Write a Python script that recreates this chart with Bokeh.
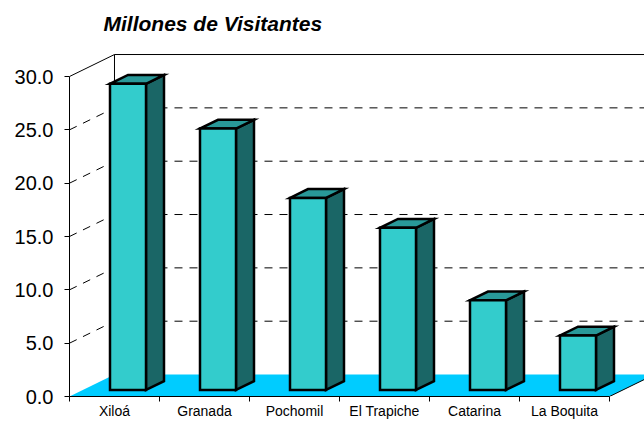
import numpy as np
from bokeh.plotting import figure
from bokeh.models import Range1d, FixedTicker, PrintfTickFormatter, Label
from bokeh.embed import file_html
from bokeh.resources import INLINE

# ---- data ----
categories = ["Xiloá", "Granada", "Pochomil", "El Trapiche", "Catarina", "La Boquita"]
visitantes = [28.7, 24.5, 18.0, 15.2, 8.4, 5.1]
y_ticks = [0, 5, 10, 15, 20, 25, 30]
title_text = "Millones de Visitantes"

# ---- 3D projection parameters (in data units) ----
DX = 0.5      # depth shift in category units
DY = 2.06     # depth shift in value units
D0, D1 = 0.3, 0.7   # bar depth extent
BW0, BW1 = 0.3, 0.7 # bar extent within category
YMAX = 30
n = len(categories)

FONT = "Liberation Sans"

p = figure(width=644, height=421,
           x_range=Range1d(0, 6.389), y_range=Range1d(0, 37.125),
           output_backend="svg", toolbar_location=None,
           min_border_left=69, min_border_right=0,
           min_border_top=0, min_border_bottom=25)
p.outline_line_color = None
p.xgrid.visible = False
p.ygrid.visible = False
p.background_fill_color = "white"
p.border_fill_color = "white"

# title
p.add_layout(Label(x=0.378, y=34.94, text=title_text, text_font=FONT,
                   text_font_style="bold italic", text_font_size="21px",
                   text_color="black", text_baseline="alphabetic", text_align="left"))

# floor
p.patch([0, n, n + DX, DX], [0, 0, DY, DY], fill_color="#00CCFF", line_color=None)
p.line([n, n + DX], [0, DY], line_color="black", line_width=1)

# walls
p.line([0, DX], [YMAX, YMAX + DY], line_color="black", line_width=1)
p.line([DX, n + DX + 1], [YMAX + DY, YMAX + DY], line_color="black", line_width=1)
p.line([DX, DX], [DY, YMAX + DY], line_color="black", line_width=1)

# gridlines
grid_vals = [v for v in y_ticks if 0 < v < YMAX]
p.multi_line([[0, DX] for v in grid_vals], [[v, v + DY] for v in grid_vals],
             line_color="black", line_dash="8 7", line_width=1)
p.multi_line([[DX, n + DX + 1] for v in grid_vals], [[v + DY, v + DY] for v in grid_vals],
             line_color="black", line_dash="8 7", line_width=1)

# bars
front_xs, front_ys, side_xs, side_ys, top_xs, top_ys = [], [], [], [], [], []
ddx = DX * (D1 - D0)
ddy = DY * (D1 - D0)
for i, v in enumerate(visitantes):
    x0 = i + BW0 + DX * D0
    x1 = i + BW1 + DX * D0
    y0 = DY * D0
    y1 = v + DY * D0
    front_xs.append([x0, x1, x1, x0]); front_ys.append([y0, y0, y1, y1])
    side_xs.append([x1, x1 + ddx, x1 + ddx, x1]); side_ys.append([y0, y0 + ddy, y1 + ddy, y1])
    top_xs.append([x0, x1, x1 + ddx, x0 + ddx]); top_ys.append([y1, y1, y1 + ddy, y1 + ddy])

p.patches(side_xs, side_ys, fill_color="#1A6666", line_color="black", line_width=2.5, line_join="miter")
p.patches(top_xs, top_ys, fill_color="#299999", line_color="black", line_width=2.5, line_join="miter")
p.patches(front_xs, front_ys, fill_color="#33CCCC", line_color="black", line_width=2.5, line_join="miter")

# y axis
ya = p.yaxis[0]
ya.ticker = FixedTicker(ticks=y_ticks, minor_ticks=[])
ya.formatter = PrintfTickFormatter(format="%.1f")
ya.bounds = (0, YMAX)
ya.axis_line_color = "black"
ya.major_tick_out = 5
ya.major_tick_in = 0
ya.major_label_standoff = 11
ya.major_label_text_font = FONT
ya.major_label_text_font_size = "20px"
ya.major_label_text_color = "black"

# x axis
xa = p.xaxis[0]
centers = [i + 0.5 for i in range(n)]
xa.ticker = FixedTicker(ticks=centers, minor_ticks=list(range(n + 1)))
xa.major_label_overrides = {c: lab for c, lab in zip(centers, categories)}
xa.bounds = (0, n)
xa.axis_line_color = "black"
xa.major_tick_out = 0
xa.major_tick_in = 0
xa.minor_tick_out = 5
xa.minor_tick_in = 0
xa.minor_tick_line_color = "black"
xa.major_label_standoff = 1
xa.major_label_text_font = FONT
xa.major_label_text_font_size = "14px"
xa.major_label_text_color = "black"

open("out.html", "w").write(file_html(p, INLINE))
